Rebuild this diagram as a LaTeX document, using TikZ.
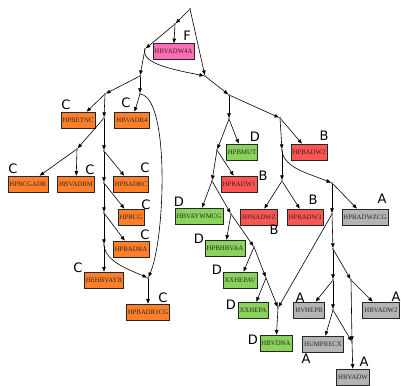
\documentclass[tikz,border=0pt]{standalone}
\usepackage{fontspec}
\setmainfont{Liberation Serif}
\setsansfont{DejaVu Sans}
\usetikzlibrary{arrows.meta}
\definecolor{corange}{RGB}{255,127,42}
\definecolor{cpink}{RGB}{255,110,180}
\definecolor{cred}{RGB}{255,85,85}
\definecolor{cgreen}{RGB}{138,210,90}
\definecolor{cgray}{RGB}{180,180,180}
\begin{document}
\begin{tikzpicture}[x=1pt,y=-1pt,
  box/.style={draw=black!85, line width=0.7pt, minimum height=16pt, inner sep=1.6pt,
    font=\fontsize{6.8}{7}\selectfont, text=black!85},
  orb/.style={box, fill=corange},
  pkb/.style={box, fill=cpink},
  rdb/.style={box, fill=cred},
  grb/.style={box, fill=cgreen},
  gyb/.style={box, fill=cgray},
  grp/.style={font=\sffamily\fontsize{13}{13}\selectfont, inner sep=0pt},
  pt/.style={circle, fill=black, inner sep=0pt, minimum size=1.8pt},
  edge/.style={line width=0.6pt, -{Triangle[length=4.5pt,width=3.5pt]}}]
\useasboundingbox (0,0) rectangle (401,385);

% boxes
\node[pkb] (hbvadw4a) at (173.5,51.5) {HBVADW4A};
\node[orb] (hpbetnc) at (78,120) {HPBETNC};
\node[orb] (hbvadr4) at (132,120) {HBVADR4};
\node[orb] (hpbcgadr) at (28,184) {HPBCGADR};
\node[orb] (hbvadrm) at (76,184) {HBVADRM};
\node[orb] (hpbadrc) at (131,184) {HPBADRC};
\node[orb] (hpbcg) at (131,217) {HPBCG};
\node[orb] (hpbadra) at (131,249) {HPBADRA};
\node[orb] (hehbvayr) at (104,280) {HEHBVAYR};
\node[orb] (hpbadr1cg) at (148,312) {HPBADR1CG};
\node[grb] (hpbmut) at (242,152) {HPBMUT};
\node[rdb] (hpbadw2) at (309,152) {HPBADW2};
\node[rdb] (hpbadw1) at (239,184) {HPBADW1};
\node[rdb] (hpbadwz) at (259,217) {HPBADWZ};
\node[rdb] (hpbadw3) at (305,217) {HPBADW3};
\node[gyb] (hpbadwzcg) at (365,217) {HPBADWZCG};
\node[grb] (hbvaywmcg) at (199,216) {HBVAYWMCG};
\node[grb] (hpbhbvaa) at (225,248) {HPBHBVAA};
\node[grb] (xxhepav) at (240,280) {XXHEPAV};
\node[grb] (xxhepa) at (253,310) {XXHEPA};
\node[grb] (hbvdna) at (276,343) {HBVDNA};
\node[gyb] (hvhepb) at (309,310) {HVHEPB};
\node[gyb] (hbvadw2) at (381,310) {HBVADW2};
\node[gyb] (humprecx) at (323,344) {HUMPRECX};
\node[gyb] (hbvadw) at (353,377) {HBVADW};

% group labels
\node[grp] (lf) at (187,36) {F};
\node[grp] (l1) at (66,105) {C};
\node[grp] (l2) at (126,103) {C};
\node[grp] (l3) at (13,169) {C};
\node[grp] (l4) at (90,170) {C};
\node[grp] (l5) at (145,168) {C};
\node[grp] (l6) at (146,205) {C};
\node[grp] (l7) at (145,235) {C};
\node[grp] (l8) at (78,268) {C};
\node[grp] (l9) at (163,298) {C};
\node[grp] (l10) at (255,137) {D};
\node[grp] (l11) at (324,136) {B};
\node[grp] (l12) at (263,176) {B};
\node[grp] (l13) at (274,230) {B};
\node[grp] (l14) at (313,200) {B};
\node[grp] (l15) at (382,199) {A};
\node[grp] (l16) at (179,202) {D};
\node[grp] (l17) at (199,239) {D};
\node[grp] (l18) at (217,270) {D};
\node[grp] (l19) at (231,305) {D};
\node[grp] (l20) at (253,340) {D};
\node[grp] (l21) at (300,298) {A};
\node[grp] (l22) at (396,297) {A};
\node[grp] (l23) at (306,359) {A};
\node[grp] (l24) at (364,362) {A};

% internal points
\node[pt] (p0) at (190,9) {};
\node[pt] (p1) at (175,24) {};
\node[pt] (p2) at (145,49) {};
\node[pt] (p3) at (205,76) {};
\node[pt] (p4) at (140,76) {};
\node[pt] (p5) at (105,94) {};
\node[pt] (p6) at (140,94) {};
\node[pt] (p7) at (104,118) {};
\node[pt] (p8) at (77,149) {};
\node[pt] (p9) at (104,151) {};
\node[pt] (p10) at (104,183) {};
\node[pt] (p11) at (104,213) {};
\node[pt] (p12) at (104,245) {};
\node[pt] (pq) at (148,278) {};
\node[pt] (p13) at (229,95) {};
\node[pt] (p14) at (229,119) {};
\node[pt] (p15) at (217,150) {};
\node[pt] (p16) at (212,181) {};
\node[pt] (p17) at (231,214) {};
\node[pt] (p18) at (254,247) {};
\node[pt] (p19) at (266,278) {};
\node[pt] (p20) at (278,308) {};
\node[pt] (p21) at (280,118) {};
\node[pt] (p21a) at (282,150) {};
\node[pt] (p21b) at (282,181) {};
\node[pt] (p22) at (332,183) {};
\node[pt] (p23) at (332,214) {};
\node[pt] (p24) at (333,249) {};
\node[pt] (p25) at (333,280) {};
\node[pt] (p26) at (351,280) {};
\node[pt] (p27) at (333,310) {};
\node[pt] (p28) at (352,342) {};

% edges
\draw[edge] (p0) -- (p1);
\draw[edge] (p0) -- (p3);
\draw[edge] (p1) -- (hbvadw4a);
\draw[edge] (p1) -- (p2);
\draw[edge] (p2) .. controls (142,64) and (175,70) .. (p3);
\draw[edge] (p2) -- (p4);
\draw[edge] (p4) -- (p5);
\draw[edge] (p4) -- (p6);
\draw[edge] (p5) -- (hpbetnc);
\draw[edge] (p5) -- (p7);
\draw[edge] (p6) -- (hbvadr4);
\draw[edge] (p6) .. controls (170,100) and (165,240) .. (pq);
\draw[edge] (p7) -- (p8);
\draw[edge] (p7) -- (p9);
\draw[edge] (p8) -- (hpbcgadr);
\draw[edge] (p8) -- (hbvadrm);
\draw[edge] (p9) -- (hpbadrc);
\draw[edge] (p9) -- (p10);
\draw[edge] (p10) -- (hpbcg);
\draw[edge] (p10) -- (p11);
\draw[edge] (p11) -- (hpbadra);
\draw[edge] (p11) -- (p12);
\draw[edge] (p12) -- (hehbvayr);
\draw[edge] (p12) .. controls (106,262) and (130,270) .. (pq);
\draw[edge] (pq) -- (hpbadr1cg);
\draw[edge] (p3) -- (p13);
\draw[edge] (p13) -- (p14);
\draw[edge] (p13) -- (p21);
\draw[edge] (p14) -- (hpbmut);
\draw[edge] (p14) -- (p15);
\draw[edge] (p15) -- (hpbadw1);
\draw[edge] (p15) -- (p16);
\draw[edge] (p16) -- (hbvaywmcg);
\draw[edge] (p16) -- (p17);
\draw[edge] (p17) -- (hpbhbvaa);
\draw[edge] (p17) -- (p18);
\draw[edge] (p18) -- (xxhepav);
\draw[edge] (p18) -- (p19);
\draw[edge] (p19) -- (xxhepa);
\draw[edge] (p19) -- (p20);
\draw[edge] (p20) -- (hbvdna);
\draw[edge] (p23) -- (p20);
\draw[edge] (p21) -- (hpbadw2);
\draw[edge] (p21) -- (p21a);
\draw[edge] (p21a) -- (p21b);
\draw[edge] (p21a) .. controls (284,168) and (310,174) .. (p22);
\draw[edge] (p21b) -- (hpbadwz);
\draw[edge] (p21b) -- (hpbadw3);
\draw[edge] (p22) -- (hpbadwzcg);
\draw[edge] (p22) -- (p23);
\draw[edge] (p23) -- (p24);
\draw[edge] (p24) -- (p25);
\draw[edge] (p24) -- (p26);
\draw[edge] (p25) -- (hvhepb);
\draw[edge] (p25) -- (p27);
\draw[edge] (p26) -- (hbvadw2);
\draw[edge] (p26) -- (p28);
\draw[edge] (p27) -- (humprecx);
\draw[edge] (p27) -- (p28);
\draw[edge] (p28) -- (hbvadw);
\end{tikzpicture}
\end{document}
